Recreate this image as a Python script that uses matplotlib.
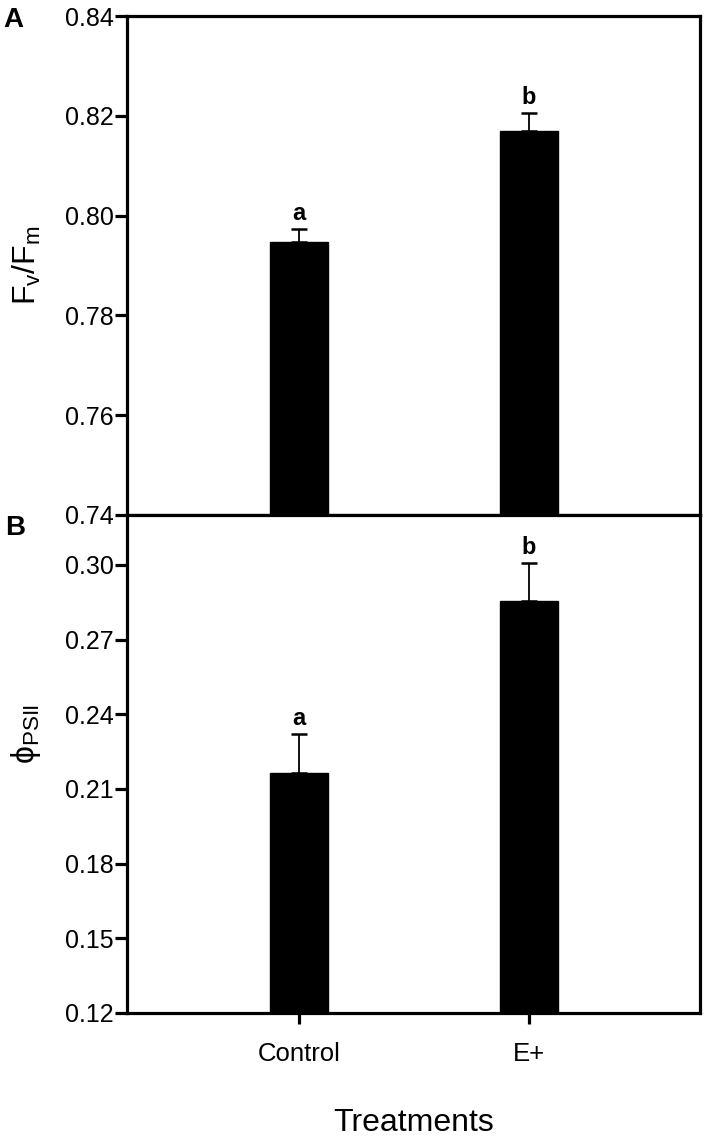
import matplotlib
matplotlib.use("Agg")
import matplotlib.pyplot as plt

plt.rcParams['font.family'] = ['Liberation Sans', 'DejaVu Sans']
plt.rcParams['mathtext.fontset'] = 'custom'
plt.rcParams['mathtext.rm'] = 'Liberation Sans'
plt.rcParams['mathtext.it'] = 'Liberation Sans:italic'
plt.rcParams['mathtext.bf'] = 'Liberation Sans:bold'

categories = ["Control", "E+"]
fvfm_mean = [0.7948, 0.8170]
fvfm_err = [0.0025, 0.0036]
fvfm_letters = ["a", "b"]
phi_mean = [0.2165, 0.2855]
phi_err = [0.0154, 0.0151]
phi_letters = ["a", "b"]
fvfm_ticks = [0.74, 0.76, 0.78, 0.80, 0.82, 0.84]
phi_ticks = [0.12, 0.15, 0.18, 0.21, 0.24, 0.27, 0.30]

W, H = 708, 1138
fig = plt.figure(figsize=(W / 100, H / 100), dpi=100)
left, right = 127 / W, 700 / W
ax1 = fig.add_axes([left, 1 - 515 / H, right - left, (515 - 16) / H])
ax2 = fig.add_axes([left, 1 - 1013 / H, right - left, (1013 - 515) / H])

x = list(range(len(categories)))
lw = 2.3

def draw(ax, means, errs, letters, ylim, ticks, fmt, offset):
    ax.bar(x, means, width=0.252, color='black', edgecolor='black', zorder=2)
    ax.errorbar(x, means, yerr=[[0] * len(errs), errs], fmt='none',
                ecolor='black', elinewidth=1.3, capsize=6, capthick=1.8, zorder=3)
    for xi, m, e, l in zip(x, means, errs, letters):
        ax.annotate(l, (xi, m + e), xytext=(0, offset), textcoords='offset points',
                    ha='center', va='bottom', fontsize=17, fontweight='bold')
    ax.set_xlim(-0.748, 1.743)
    ax.set_ylim(*ylim)
    ax.set_yticks(ticks)
    ax.set_yticklabels([fmt.format(t) for t in ticks])
    ax.set_xticks(x)
    for s in ax.spines.values():
        s.set_linewidth(lw)
    ax.tick_params(axis='y', length=8.5, width=lw, labelsize=18, pad=1)
    ax.tick_params(axis='x', length=8, width=lw, labelsize=18.5, pad=13)

draw(ax1, fvfm_mean, fvfm_err, fvfm_letters, (0.74, 0.84), fvfm_ticks, "{:.2f}", 3)
draw(ax2, phi_mean, phi_err, phi_letters, (0.12, 0.32), phi_ticks, "{:.2f}", 3)

ax1.set_xticklabels([])
ax2.set_xticklabels(categories)

ax1.set_ylabel(r'$\mathrm{F_v/F_m}$', fontsize=23, labelpad=16)
ax2.set_ylabel(r'$\mathrm{\phi_{PSII}}$', fontsize=23, labelpad=16)
ax2.yaxis.label.set_y(0.56)
ax2.set_xlabel('Treatments', fontsize=23, labelpad=30)

fig.text(3 / W, 1 - 20 / H, 'A', fontsize=20, fontweight='bold', va='center', ha='left')
fig.text(5 / W, 1 - 528 / H, 'B', fontsize=20, fontweight='bold', va='center', ha='left')

fig.savefig('out.png', dpi=100)
